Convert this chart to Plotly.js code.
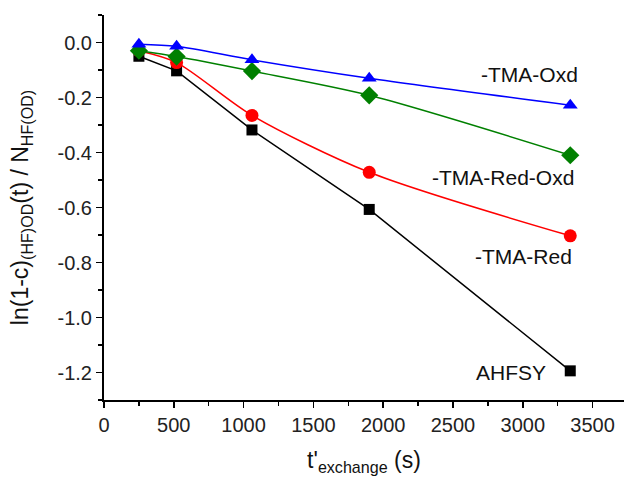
<!DOCTYPE html>
<html>
<head>
<meta charset="utf-8">
<script src="https://cdn.plot.ly/plotly-3.0.1.min.js"></script>
<style>html,body{margin:0;padding:0;background:#fff;}#chart{width:624px;height:479px;}</style>
</head>
<body>
<div id="chart"></div>
<script>
const times = [250, 520, 1060, 1900, 3340];
const ahfsy = [-0.05, -0.103, -0.318, -0.607, -1.194];
const tmaRed = [-0.03, -0.073, -0.265, -0.472, -0.703];
const tmaRedOxd = [-0.03, -0.051, -0.104, -0.192, -0.41];
const tmaOxd = [-0.006, -0.014, -0.063, -0.13, -0.228];
const seriesNames = ['AHFSY', '-TMA-Red', '-TMA-Red-Oxd', '-TMA-Oxd'];
const xTicks = [0, 500, 1000, 1500, 2000, 2500, 3000, 3500];
const yTicks = [0, -0.2, -0.4, -0.6, -0.8, -1.0, -1.2];
const yTickText = ['0.0', '-0.2', '-0.4', '-0.6', '-0.8', '-1.0', '-1.2'];

const font = 'Liberation Sans, Arial, sans-serif';
function tr(y, name, color, symbol, size, shape) {
  return {
    x: times, y: y, name: name, type: 'scatter', mode: 'lines+markers',
    line: {color: color, width: 1.5, shape: shape, smoothing: 0.8},
    marker: {color: color, symbol: symbol, size: size},
    cliponaxis: false
  };
}
const data = [
  tr(ahfsy, seriesNames[0], '#000000', 'square', 11, 'linear'),
  tr(tmaRed, seriesNames[1], '#ff0000', 'circle', 13, 'spline'),
  tr(tmaRedOxd, seriesNames[2], '#008000', 'diamond', 14, 'spline'),
  tr(tmaOxd, seriesNames[3], '#0000ff', 'triangle-up', 13, 'spline')
];
const annFont = {family: font, size: 21, color: '#111'};
const layout = {
  width: 624, height: 479,
  margin: {l: 104, r: 0, t: 15, b: 79},
  showlegend: false,
  paper_bgcolor: '#fff', plot_bgcolor: '#fff',
  xaxis: {
    range: [0, 3725], showgrid: false, zeroline: false,
    showline: true, linecolor: '#000', linewidth: 2,
    ticks: 'outside', ticklen: 6, tickwidth: 1.5, tickcolor: '#000',
    tickvals: xTicks,
    minor: {dtick: 250, tick0: 0, ticks: 'outside', ticklen: 4, tickwidth: 1.5, tickcolor: '#000', showgrid: false},
    tickfont: {family: font, size: 20, color: '#222'},
    automargin: false,
    title: {text: "t'<sub>exchange</sub> (s)", font: {family: font, size: 23, color: '#111'}, standoff: 17}
  },
  yaxis: {
    range: [-1.3, 0.1], showgrid: false, zeroline: false,
    showline: true, linecolor: '#000', linewidth: 2,
    ticks: 'outside', ticklen: 6, tickwidth: 1.5, tickcolor: '#000',
    tickvals: yTicks, ticktext: yTickText,
    minor: {dtick: 0.1, tick0: 0.1, ticks: 'outside', ticklen: 4, tickwidth: 1.5, tickcolor: '#000', showgrid: false},
    tickfont: {family: font, size: 20, color: '#222'},
    automargin: false,
    title: {text: 'ln(1-c)<sub>(HF)OD</sub>(t) / N<sub>HF(OD)</sub>', font: {family: font, size: 23, color: '#111'}, standoff: 22}
  },
  annotations: [
    {x: 3410, y: -0.115, xref: 'x', yref: 'y', text: '-TMA-Oxd', showarrow: false, xanchor: 'right', font: annFont},
    {x: 3381, y: -0.49, xref: 'x', yref: 'y', text: '-TMA-Red-Oxd', showarrow: false, xanchor: 'right', font: annFont},
    {x: 3367, y: -0.778, xref: 'x', yref: 'y', text: '-TMA-Red', showarrow: false, xanchor: 'right', font: annFont},
    {x: 3180, y: -1.2, xref: 'x', yref: 'y', text: 'AHFSY', showarrow: false, xanchor: 'right', font: annFont}
  ]
};
Plotly.newPlot('chart', data, layout, {displayModeBar: false, staticPlot: true});
</script>
</body>
</html>
